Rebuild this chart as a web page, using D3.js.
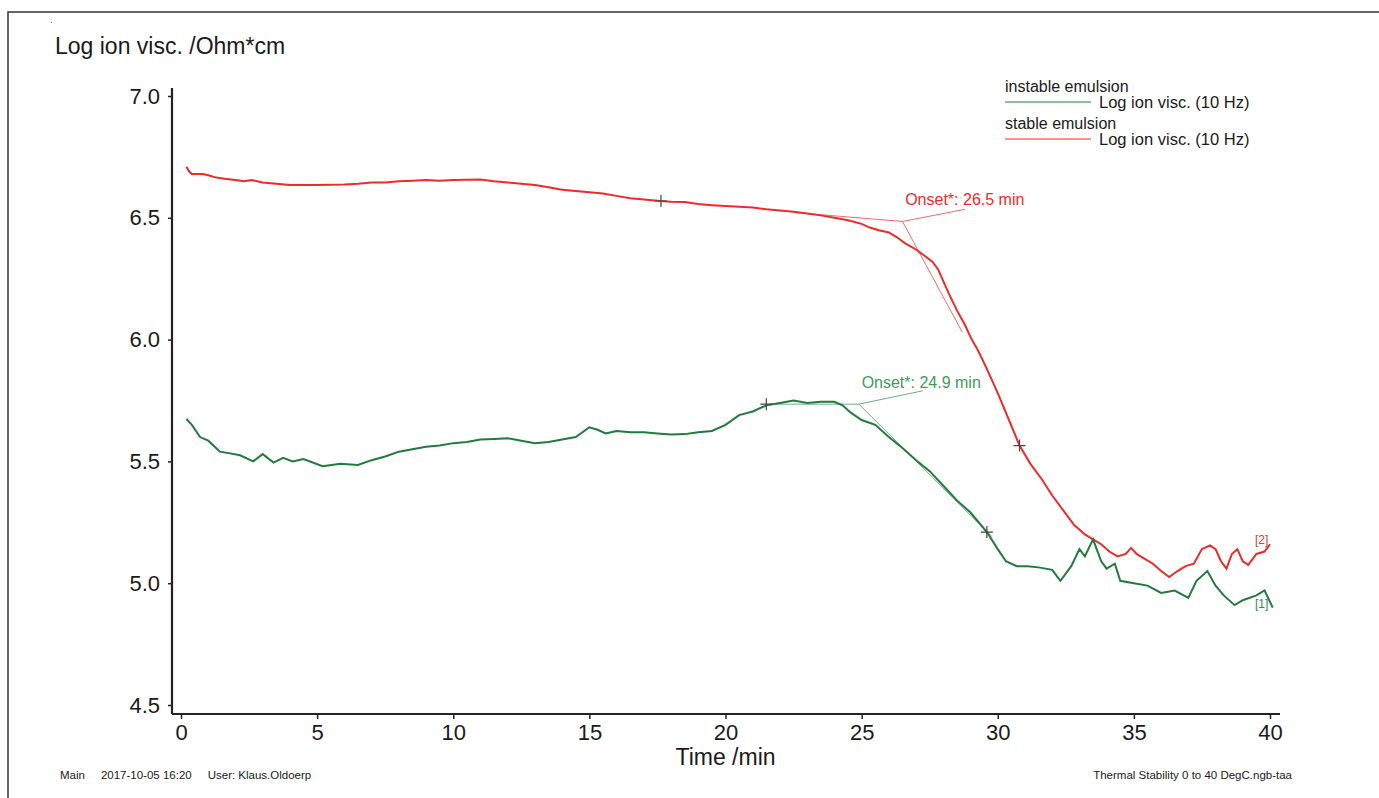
<!doctype html>
<html>
  <head>
    <title>Log ion viscosity</title>
    <style>
      body { margin: 0; background: #fff; }
      text { font-family: 'Liberation Sans', Arial, sans-serif; fill: #1a1a1a; }
    </style>
  </head>
  <body>
    <svg width='1379' height='798'></svg>

  <script src='https://cdn.jsdelivr.net/npm/d3@7/dist/d3.min.js'></script>
  <script>
// Values, time in min / log ion visc.
var stableTime = [0.2, 0.3, 0.4, 0.8, 1.0, 1.3, 1.6, 2.0, 2.3, 2.6, 3.0, 3.5, 4, 5, 6, 6.5, 7, 7.5, 8, 8.5, 9, 9.5, 10, 10.5, 11, 11.5, 12, 12.5, 13, 13.5, 14, 14.5, 15, 15.5, 16, 16.5, 17, 17.6, 18, 18.5, 19, 19.5, 20, 20.5, 21, 21.5, 22, 22.5, 23, 23.5, 24, 24.5, 25, 25.3, 25.6, 26, 26.3, 26.6, 27, 27.3, 27.6, 27.8, 28, 28.2, 28.5, 28.8, 29, 29.3, 29.6, 30, 30.3, 30.8, 31.2, 31.6, 32, 32.4, 32.8, 33.2, 33.5, 33.8, 34.1, 34.4, 34.7, 34.9, 35.1, 35.4, 35.7, 36.0, 36.3, 36.6, 36.9, 37.2, 37.5, 37.8, 38.0, 38.2, 38.4, 38.6, 38.8, 39.0, 39.2, 39.5, 39.8, 40.0];
var stableValue = [6.71, 6.69, 6.68, 6.68, 6.675, 6.665, 6.66, 6.655, 6.65, 6.655, 6.645, 6.64, 6.635, 6.635, 6.637, 6.64, 6.645, 6.645, 6.65, 6.652, 6.655, 6.652, 6.655, 6.656, 6.657, 6.65, 6.645, 6.64, 6.635, 6.625, 6.615, 6.61, 6.605, 6.6, 6.59, 6.58, 6.575, 6.569, 6.566, 6.565, 6.557, 6.552, 6.548, 6.545, 6.542, 6.535, 6.53, 6.525, 6.518, 6.51, 6.5, 6.49, 6.475, 6.46, 6.45, 6.44, 6.42, 6.395, 6.37, 6.345, 6.32, 6.29, 6.24, 6.19, 6.12, 6.06, 6.01, 5.95, 5.88, 5.78, 5.7, 5.565, 5.49, 5.43, 5.36, 5.3, 5.24, 5.2, 5.18, 5.16, 5.13, 5.11, 5.12, 5.145, 5.12, 5.1, 5.08, 5.05, 5.025, 5.05, 5.07, 5.08, 5.14, 5.155, 5.14, 5.09, 5.06, 5.12, 5.14, 5.09, 5.075, 5.12, 5.13, 5.16];

var instableTime = [0.2, 0.4, 0.7, 1.0, 1.43, 1.7, 2.17, 2.65, 3.0, 3.4, 3.75, 4.1, 4.5, 5.2, 5.85, 6.5, 7.0, 7.5, 8.0, 8.5, 9.0, 9.5, 10.0, 10.5, 11.0, 11.5, 12.0, 12.5, 13.0, 13.5, 14.0, 14.5, 15.0, 15.3, 15.6, 16.0, 16.5, 17.0, 17.5, 18.0, 18.5, 19.0, 19.5, 20.0, 20.5, 21.0, 21.5, 22.0, 22.5, 23.0, 23.5, 24.0, 24.3, 24.6, 25.0, 25.5, 26.0, 26.5, 27.0, 27.5, 28.0, 28.5, 29.0, 29.6, 30.0, 30.3, 30.7, 31.1, 31.5, 32.0, 32.3, 32.7, 33.0, 33.2, 33.5, 33.8, 34.0, 34.3, 34.5, 35.0, 35.5, 36.0, 36.5, 37.0, 37.3, 37.7, 38.0, 38.3, 38.7, 39.0, 39.5, 39.8, 40.1];
var instableValue = [5.674, 5.65, 5.6, 5.585, 5.54, 5.535, 5.525, 5.5, 5.53, 5.495, 5.515, 5.5, 5.51, 5.48, 5.49, 5.485, 5.505, 5.52, 5.54, 5.55, 5.56, 5.565, 5.575, 5.58, 5.59, 5.592, 5.595, 5.585, 5.575, 5.58, 5.59, 5.6, 5.64, 5.63, 5.615, 5.625, 5.62, 5.62, 5.615, 5.61, 5.612, 5.62, 5.625, 5.65, 5.69, 5.705, 5.73, 5.74, 5.75, 5.74, 5.745, 5.745, 5.73, 5.7, 5.67, 5.65, 5.6, 5.555, 5.505, 5.46, 5.4, 5.34, 5.29, 5.21, 5.14, 5.09, 5.07, 5.07, 5.065, 5.055, 5.01, 5.07, 5.14, 5.11, 5.18, 5.09, 5.06, 5.08, 5.01, 5.0, 4.99, 4.96, 4.97, 4.94, 5.01, 5.05, 4.99, 4.95, 4.91, 4.93, 4.95, 4.97, 4.9];

var yMajorTicks = [4.5, 5.0, 5.5, 6.0, 6.5, 7.0];
var xMajorTicks = [0, 5, 10, 15, 20, 25, 30, 35, 40];

// Onset construction: marker points and onset values
var stableMarks = [[17.63, 6.569], [30.8, 5.565]];
var instableMarks = [[21.5, 5.735], [29.6, 5.21]];
var stableOnset = [26.5, 6.485];
var instableOnset = [24.9, 5.735];

var red = '#ee2a2a', green = '#227a3e';
var redThin = '#f26a6a', greenThin = '#6cae84';

var svg = d3.select('svg');
var x = d3.scaleLinear().domain([0, 40]).range([181, 1270]);
var y = d3.scaleLinear().domain([4.5, 7.0]).range([705, 96]);
var x0 = 172, yBase = 714;

// page frame
svg.append('path')
  .attr('d', 'M8,798V12H1379')
  .attr('fill', 'none').attr('stroke', '#333').attr('stroke-width', 1.5);
svg.append('rect').attr('x', 51).attr('y', 22).attr('width', 1).attr('height', 1).attr('fill', '#777');

// y axis
var yAxis = svg.append('g').attr('transform', 'translate(' + x0 + ',0)');
yAxis.call(d3.axisLeft(y).tickValues(d3.range(45, 71).map(function(d) { return d / 10; }))
  .tickSize(3).tickFormat(''));
yAxis.call(d3.axisLeft(y).tickValues(yMajorTicks).tickSize(4).tickPadding(8)
  .tickFormat(d3.format('.1f')));
yAxis.selectAll('.domain').remove();
yAxis.selectAll('line').attr('stroke', '#222').attr('stroke-width', 1.5);
yAxis.selectAll('text').style('font-size', '22px').attr('fill', '#1a1a1a');
svg.append('line').attr('x1', x0).attr('x2', x0).attr('y1', y(7.0) - 8).attr('y2', yBase)
  .attr('stroke', '#222').attr('stroke-width', 2.2);

// x axis
var xAxis = svg.append('g').attr('transform', 'translate(0,' + yBase + ')');
xAxis.call(d3.axisBottom(x).tickValues(d3.range(0, 41, 2.5)).tickSize(4).tickFormat(''));
xAxis.call(d3.axisBottom(x).tickValues(xMajorTicks).tickSize(5).tickPadding(5));
xAxis.selectAll('.domain').remove();
xAxis.selectAll('line').attr('stroke', '#222').attr('stroke-width', 1.5);
xAxis.selectAll('text').style('font-size', '22px').attr('fill', '#1a1a1a');
svg.append('line').attr('x1', x0).attr('x2', x(40) + 10).attr('y1', yBase).attr('y2', yBase)
  .attr('stroke', '#222').attr('stroke-width', 2.2);

svg.append('text').attr('x', 55).attr('y', 54).style('font-size', '23px')
  .text('Log ion visc. /Ohm*cm');
svg.append('text').attr('x', x(20)).attr('y', 765).attr('text-anchor', 'middle')
  .style('font-size', '23px').text('Time /min');

// tangent construction lines
function tangent(p, q, colour) {
  svg.append('line')
    .attr('x1', x(p[0])).attr('y1', y(p[1])).attr('x2', x(q[0])).attr('y2', y(q[1]))
    .attr('stroke', colour).attr('stroke-width', 1);
}
tangent([22.5, 6.522], stableOnset, redThin);
tangent(stableOnset, [28.7, 6.03], redThin);
tangent(stableOnset, [28.8, 6.535], redThin);
tangent([21.6, 5.735], instableOnset, greenThin);
tangent(instableOnset, [29.8, 5.19], greenThin);
tangent(instableOnset, [27.25, 5.79], greenThin);

// curves
var line = d3.line().x(function(d) { return x(d[0]); }).y(function(d) { return y(d[1]); });
svg.append('path').datum(d3.zip(stableTime, stableValue)).attr('d', line)
  .attr('fill', 'none').attr('stroke', red).attr('stroke-width', 2);
svg.append('path').datum(d3.zip(instableTime, instableValue)).attr('d', line)
  .attr('fill', 'none').attr('stroke', green).attr('stroke-width', 2);

// cross markers
stableMarks.concat(instableMarks).forEach(function(m) {
  var cx = x(m[0]), cy = y(m[1]);
  svg.append('path').attr('d', 'M' + (cx - 6) + ',' + cy + 'H' + (cx + 6) + 'M' + cx + ',' + (cy - 6) + 'V' + (cy + 6))
    .attr('stroke', '#444').attr('stroke-width', 1.2);
});

// onset labels
svg.append('text').attr('x', x(26.6)).attr('y', y(6.553)).style('font-size', '16px')
  .style('fill', red).text('Onset*: 26.5 min');
svg.append('text').attr('x', x(25.0)).attr('y', y(5.8)).style('font-size', '16px')
  .style('fill', '#3f9a5a').text('Onset*: 24.9 min');

// curve end labels
svg.append('text').attr('x', x(39.45)).attr('y', y(5.16)).style('font-size', '12px')
  .style('fill', '#d04040').text('[2]');
svg.append('text').attr('x', x(39.45)).attr('y', y(4.9)).style('font-size', '12px')
  .style('fill', '#2e8a5a').text('[1]');

// legend
var legend = [
  { name: 'instable emulsion', colour: green, top: 92 },
  { name: 'stable emulsion', colour: red, top: 129 }
];
legend.forEach(function(l) {
  svg.append('text').attr('x', 1005).attr('y', l.top).style('font-size', '16px').text(l.name);
  svg.append('line').attr('x1', 1005).attr('x2', 1091).attr('y1', l.top + 10).attr('y2', l.top + 10)
    .attr('stroke', l.colour).attr('stroke-width', 1.2);
  svg.append('text').attr('x', 1099).attr('y', l.top + 16).style('font-size', '16.5px')
    .text('Log ion visc. (10 Hz)');
});

// footer
svg.append('text').attr('x', 60).attr('y', 779).style('font-size', '11.5px')
  .attr('xml:space', 'preserve').text('Main     2017-10-05 16:20     User: Klaus.Oldoerp');
svg.append('text').attr('x', 1292).attr('y', 779).attr('text-anchor', 'end').style('font-size', '11.5px')
  .text('Thermal Stability 0 to 40 DegC.ngb-taa');
  </script>
  </body>
</html>
